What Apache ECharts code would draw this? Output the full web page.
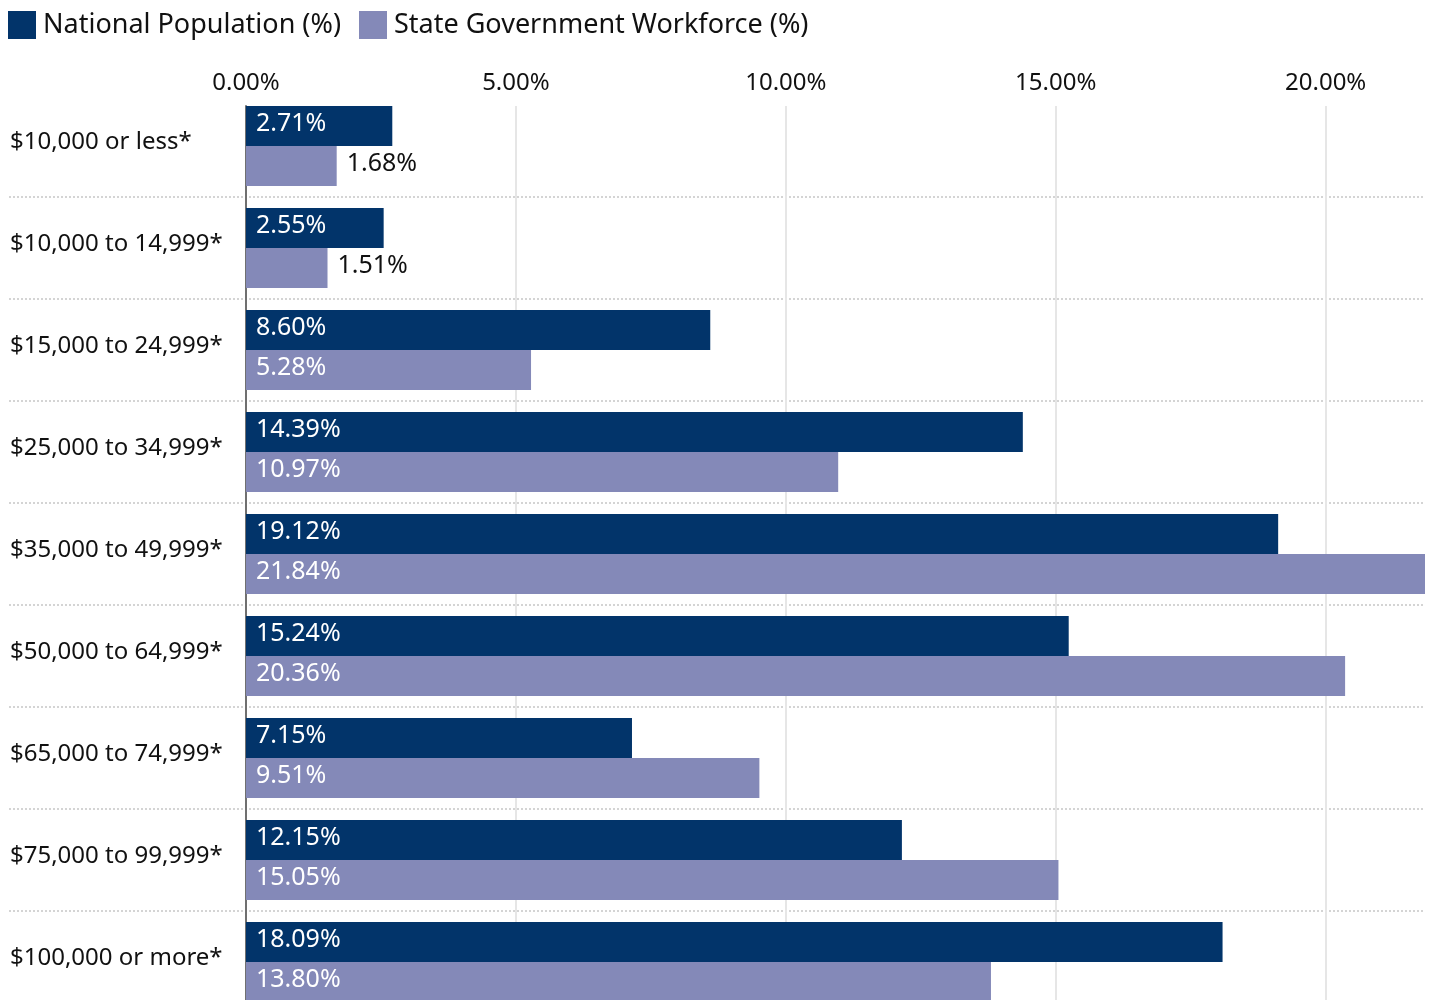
<!DOCTYPE html>
<html>
<head>
<meta charset="utf-8">
<title>Household income distribution</title>
<script src="https://cdn.jsdelivr.net/npm/echarts@6/dist/echarts.min.js"></script>
<style>
  html, body { margin: 0; padding: 0; background: #ffffff; }
  #chart { width: 1430px; height: 1000px; }
</style>
</head>
<body>
<div id="chart"></div>
<script>
// Income brackets, top to bottom
const categories = [
  '$10,000 or less*',
  '$10,000 to 14,999*',
  '$15,000 to 24,999*',
  '$25,000 to 34,999*',
  '$35,000 to 49,999*',
  '$50,000 to 64,999*',
  '$65,000 to 74,999*',
  '$75,000 to 99,999*',
  '$100,000 or more*'
];
// Share of each bracket (%)
const nationalPopulation = [2.71, 2.55, 8.60, 14.39, 19.12, 15.24, 7.15, 12.15, 18.09];
const stateWorkforce = [1.68, 1.51, 5.28, 10.97, 21.84, 20.36, 9.51, 15.05, 13.80];
// Percent axis ticks
const xTicks = [0, 5, 10, 15, 20];
const xMax = 21.84;

const FONT = '"Noto Sans", "Open Sans", sans-serif';
const DARK = '#02346a';
const LIGHT = '#8489b8';

// short bars get their label outside the bar
function withLabels(values) {
  return values.map(v => v < 2
    ? { value: v, label: { position: 'right', color: '#111111' } }
    : v);
}

const pct = v => v.toFixed(2) + '%';

const chart = echarts.init(document.getElementById('chart'), null, { renderer: 'canvas' });

// nine rows of 102px; the last one runs past the bottom edge
const ROWS_TOP = 95;
const ROWS_HEIGHT = 918;

const barLabel = {
  show: true, position: 'insideLeft', distance: 10, offset: [0, -2],
  color: '#ffffff', fontSize: 25, fontFamily: FONT,
  formatter: p => pct(p.value)
};

chart.setOption({
  backgroundColor: '#ffffff',
  animation: false,
  textStyle: { fontFamily: FONT },
  legend: {
    left: 8,
    top: 11,
    padding: 0,
    itemWidth: 28,
    itemHeight: 28,
    itemGap: 18,
    icon: 'rect',
    selectedMode: false,
    textStyle: { fontSize: 27, color: '#111111', fontFamily: FONT, padding: [2, 0, 0, 2] },
    data: ['National Population (%)', 'State Government Workforce (%)']
  },
  grid: [
    // bars
    { left: 246, right: 5, top: ROWS_TOP, height: ROWS_HEIGHT, outerBoundsMode: 'none' },
    // dotted row separators spanning the labels
    { left: 9, right: 7, top: ROWS_TOP, height: ROWS_HEIGHT, outerBoundsMode: 'none' },
    // percent gridlines and zero line
    { left: 246, right: 5, top: 106, height: ROWS_HEIGHT, outerBoundsMode: 'none' }
  ],
  xAxis: [
    { gridIndex: 0, type: 'value', min: 0, max: xMax, show: false },
    { gridIndex: 1, type: 'value', min: 0, max: 1, show: false },
    {
      gridIndex: 2, type: 'value', min: 0, max: xMax, interval: 5, position: 'top',
      axisLine: { show: false },
      axisTick: { show: false },
      axisLabel: {
        show: true, margin: 11, fontSize: 24, color: '#111111', fontFamily: FONT,
        showMaxLabel: false,
        formatter: v => xTicks.includes(v) ? pct(v) : ''
      },
      splitLine: {
        show: true, showMinLine: false, showMaxLine: false,
        lineStyle: { color: '#e6e6e6', width: 2 }
      }
    }
  ],
  yAxis: [
    {
      gridIndex: 0, type: 'category', inverse: true, data: categories,
      axisLine: { show: false },
      axisTick: { show: false },
      splitLine: { show: false },
      axisLabel: {
        align: 'left', margin: 236, color: '#111111',
        formatter: v => '{c|' + v + '}',
        rich: {
          c: { fontSize: 24, color: '#111111', fontFamily: FONT, padding: [0, 0, 7, 0] }
        }
      }
    },
    {
      gridIndex: 1, type: 'category', inverse: true, data: categories,
      axisLine: { show: false },
      axisTick: { show: false },
      axisLabel: { show: false },
      splitLine: {
        show: true, showMinLine: false, showMaxLine: false,
        lineStyle: { color: '#d4d4d4', width: 2, type: [2, 2] }
      }
    },
    {
      gridIndex: 2, type: 'value', min: 0, max: 1,
      axisLine: { show: true, lineStyle: { color: '#707070', width: 2 } },
      axisTick: { show: false },
      axisLabel: { show: false },
      splitLine: { show: false }
    }
  ],
  series: [
    {
      name: 'National Population (%)',
      type: 'bar',
      xAxisIndex: 0, yAxisIndex: 0,
      barWidth: 40,
      barGap: '0%',
      itemStyle: { color: DARK },
      label: barLabel,
      data: withLabels(nationalPopulation)
    },
    {
      name: 'State Government Workforce (%)',
      type: 'bar',
      xAxisIndex: 0, yAxisIndex: 0,
      barWidth: 40,
      barGap: '0%',
      itemStyle: { color: LIGHT },
      label: barLabel,
      data: withLabels(stateWorkforce)
    }
  ]
});
</script>
</body>
</html>
